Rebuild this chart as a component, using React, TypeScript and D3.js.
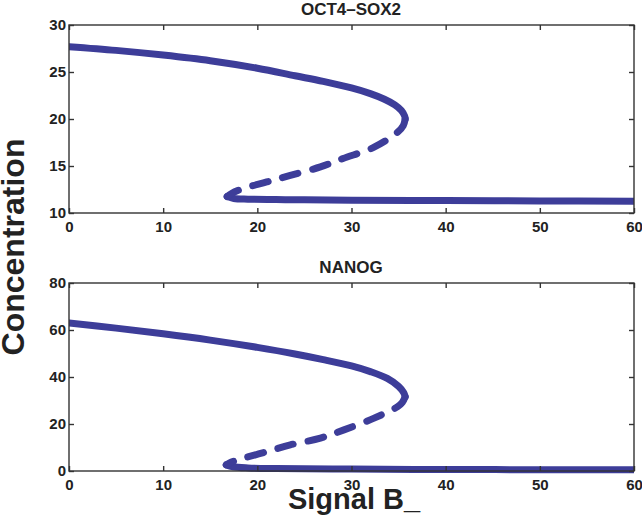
import { useEffect, useRef } from "react";
import * as d3 from "d3";

// OCT4-SOX2 branches [signal, concentration]
const octUpper = [[0, 27.7], [5, 27.3], [10, 26.8], [15, 26.2], [20, 25.4], [24, 24.6], [27, 24.0], [30, 23.3], [32, 22.7], [33.5, 22.1], [34.6, 21.5], [35.3, 20.9], [35.65, 20.3], [35.7, 20.0]];
const octUnstable = [[35.7, 20.0], [35.5, 19.3], [34.9, 18.6], [32.4, 17.0], [29.1, 15.8], [26.7, 14.9], [23.5, 14.0], [21, 13.3], [18.5, 12.6], [17.3, 12.1], [16.8, 11.75]];
const octLower = [[16.8, 11.75], [17.5, 11.55], [19, 11.47], [22, 11.43], [25, 11.4], [30, 11.36], [40, 11.32], [50, 11.28], [60, 11.25]];

// NANOG branches
const nanogUpper = [[0, 63], [5, 60.8], [10, 58.4], [15, 55.7], [20, 52.6], [24, 49.8], [27, 47.4], [30, 44.7], [32, 42.3], [33.8, 39.4], [35, 36.0], [35.55, 33.3], [35.7, 31.6]];
const nanogUnstable = [[35.7, 31.6], [35.4, 29.2], [34.9, 27.4], [32.4, 22.5], [29.2, 17.5], [26.7, 14.0], [23.5, 11.1], [21, 8.2], [18.5, 5.4], [17.2, 3.7], [16.7, 2.6]];
const nanogLower = [[16.7, 2.6], [17.4, 1.8], [19, 1.3], [22, 1.05], [30, 0.8], [40, 0.65], [50, 0.55], [60, 0.5]];

const xTicks = [0, 10, 20, 30, 40, 50, 60];
const octTicks = [10, 15, 20, 25, 30];
const nanogTicks = [0, 20, 40, 60, 80];

const color = "#3d3d99";
const font = "Helvetica, 'Liberation Sans', Arial, sans-serif";

export default function App() {
  const svgRef = useRef(null);

  useEffect(() => {
    const width = 642;
    const height = 522;
    const left = 69;
    const right = 634;

    d3.select(svgRef.current).selectAll("*").remove();
    const svg = d3
      .select(svgRef.current)
      .attr("width", width)
      .attr("height", height)
      .style("background", "#fff");

    const x = d3.scaleLinear().domain([0, 60]).range([left, right]);

    const panels = [
      { title: "OCT4\u2013SOX2", top: 25, bottom: 213, domain: [10, 30], ticks: octTicks, upper: octUpper, unstable: octUnstable, lower: octLower },
      { title: "NANOG", top: 283, bottom: 471, domain: [0, 80], ticks: nanogTicks, upper: nanogUpper, unstable: nanogUnstable, lower: nanogLower }
    ];

    panels.forEach((p, i) => {
      const y = d3.scaleLinear().domain(p.domain).range([p.bottom, p.top]);
      const g = svg.append("g");

      const clipId = "clip" + i;
      svg
        .append("clipPath")
        .attr("id", clipId)
        .append("rect")
        .attr("x", left)
        .attr("y", p.top - 10)
        .attr("width", right - left)
        .attr("height", p.bottom - p.top + 20);

      const line = d3
        .line()
        .x(d => x(d[0]))
        .y(d => y(d[1]))
        .curve(d3.curveCatmullRom);

      const curves = g.append("g").attr("clip-path", `url(#${clipId})`);
      [p.upper, p.lower].forEach(branch => {
        curves
          .append("path")
          .attr("d", line(branch))
          .attr("fill", "none")
          .attr("stroke", color)
          .attr("stroke-width", 7)
          .attr("stroke-linecap", "round")
          .attr("stroke-linejoin", "round");
      });
      curves
        .append("path")
        .attr("d", line(p.unstable))
        .attr("fill", "none")
        .attr("stroke", color)
        .attr("stroke-width", 7)
        .attr("stroke-linecap", "round")
        .attr("stroke-dasharray", "16 15");

      // box
      g.append("rect")
        .attr("x", left)
        .attr("y", p.top)
        .attr("width", right - left)
        .attr("height", p.bottom - p.top)
        .attr("fill", "none")
        .attr("stroke", "#333")
        .attr("stroke-width", 1.4);

      const xAxis = d3.axisBottom(x).tickValues(xTicks).tickSizeInner(-5).tickSizeOuter(0).tickPadding(8);
      const xAxisTop = d3.axisTop(x).tickValues(xTicks).tickSizeInner(-5).tickSizeOuter(0).tickFormat(() => "");
      const yAxis = d3.axisLeft(y).tickValues(p.ticks).tickSizeInner(-5).tickSizeOuter(0).tickPadding(3);
      const yAxisRight = d3.axisRight(y).tickValues(p.ticks).tickSizeInner(-5).tickSizeOuter(0).tickFormat(() => "");

      [
        g.append("g").attr("transform", `translate(0,${p.bottom})`).call(xAxis),
        g.append("g").attr("transform", `translate(0,${p.top})`).call(xAxisTop),
        g.append("g").attr("transform", `translate(${left},0)`).call(yAxis),
        g.append("g").attr("transform", `translate(${right},0)`).call(yAxisRight)
      ].forEach(a => {
        a.select(".domain").remove();
        a.selectAll("line").attr("stroke", "#333").attr("stroke-width", 1.4);
        a.selectAll("text")
          .attr("fill", "#222")
          .style("font-family", font)
          .style("font-weight", "bold")
          .style("font-size", "15px");
      });

      svg
        .append("text")
        .attr("x", 351)
        .attr("y", p.top - 10)
        .attr("text-anchor", "middle")
        .attr("fill", "#222")
        .style("font-family", font)
        .style("font-weight", "bold")
        .style("font-size", "17px")
        .text(p.title);
    });

    svg
      .append("text")
      .attr("x", 354)
      .attr("y", 509)
      .attr("text-anchor", "middle")
      .attr("fill", "#222")
      .style("font-family", font)
      .style("font-weight", "bold")
      .style("font-size", "29px")
      .text("Signal B_");

    svg
      .append("text")
      .attr("transform", "translate(24,247) rotate(-90)")
      .attr("text-anchor", "middle")
      .attr("fill", "#222")
      .style("font-family", font)
      .style("font-weight", "bold")
      .style("font-size", "32px")
      .text("Concentration");
  }, []);

  return (
    <svg ref={svgRef} style={{ position: "absolute", left: 0, top: 0 }}></svg>
  );
}
